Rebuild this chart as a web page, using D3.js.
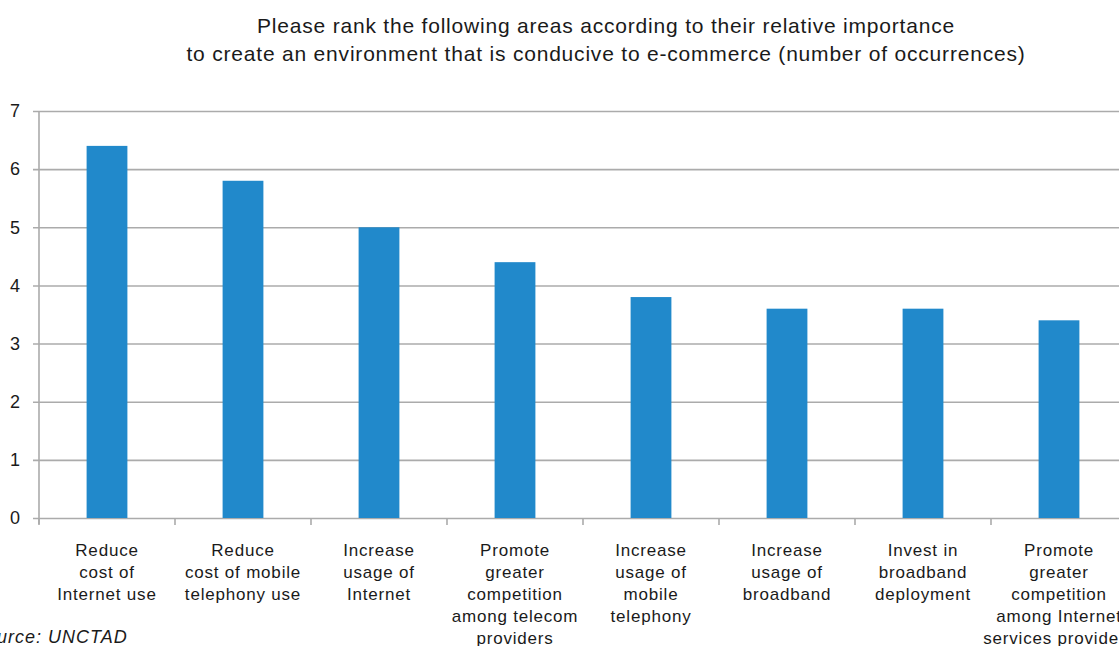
<!DOCTYPE html>
<html>
<head>
<meta charset="utf-8">
<script src="https://cdn.jsdelivr.net/npm/d3@7"></script>
<style>
  html, body { margin: 0; padding: 0; background: #fff; overflow: hidden; }
  text { font-family: "Liberation Sans", Arial, Helvetica, sans-serif; fill: #1a1a1a; }
</style>
</head>
<body>
<svg id="chart" width="1119" height="646"></svg>
<script>
// Survey responses: areas ranked by importance for an e-commerce-friendly environment
const categories = [
  ["Reduce", "cost of", "Internet use"],
  ["Reduce", "cost of mobile", "telephony use"],
  ["Increase", "usage of", "Internet"],
  ["Promote", "greater", "competition", "among telecom", "providers"],
  ["Increase", "usage of", "mobile", "telephony"],
  ["Increase", "usage of", "broadband"],
  ["Invest in", "broadband", "deployment"],
  ["Promote", "greater", "competition", "among Internet", "services providers"]
];
const values = [6.4, 5.8, 5.0, 4.4, 3.8, 3.6, 3.6, 3.4];
const yTicks = [0, 1, 2, 3, 4, 5, 6, 7];
const titleLines = [
  "Please rank the following areas according to their relative importance",
  "to create an environment that is conducive to e-commerce (number of occurrences)"
];
const sourceText = "Source: UNCTAD";

const svg = d3.select("#chart");
const plotLeft = 39, plotRight = 1127, plotTop = 111, plotBottom = 518;
const gridColor = "#ababab";
const barColor = "#2189cb";

const x = d3.scaleBand().domain(d3.range(categories.length)).range([plotLeft, plotRight]).padding(0);
const y = d3.scaleLinear().domain([0, 7]).range([plotBottom, plotTop]);

// Title
svg.append("g").selectAll("text").data(titleLines).join("text")
  .attr("x", 606).attr("y", (d, i) => 33 + i * 28)
  .attr("text-anchor", "middle").attr("font-size", 21)
  .attr("letter-spacing", 0.8)
  .text(d => d);

// Horizontal gridlines and y labels
const yAxis = d3.axisLeft(y).tickValues(yTicks).tickSize(-(1119 - plotLeft)).tickPadding(14).tickFormat(d3.format("d"));
const gy = svg.append("g").attr("transform", `translate(${plotLeft},0)`).call(yAxis);
gy.select(".domain").remove();
gy.selectAll(".tick line").attr("stroke", gridColor).attr("stroke-width", 1.6).attr("x1", -6);
gy.selectAll(".tick text").attr("font-size", 18).attr("text-anchor", "start").attr("x", -29).attr("dy", "0.32em")
  .style("font-family", "'Liberation Sans', Arial, sans-serif").attr("fill", "#1a1a1a");

// Vertical axis line
svg.append("line").attr("x1", plotLeft).attr("x2", plotLeft).attr("y1", plotTop).attr("y2", plotBottom + 6)
  .attr("stroke", gridColor).attr("stroke-width", 1.6);

// Category separator ticks below the baseline
svg.append("g").selectAll("line").data(d3.range(categories.length + 1)).join("line")
  .attr("x1", i => plotLeft + i * x.step()).attr("x2", i => plotLeft + i * x.step())
  .attr("y1", plotBottom).attr("y2", plotBottom + 7)
  .attr("stroke", gridColor).attr("stroke-width", 1.6);

// Bars
const barW = x.bandwidth() * 0.30;
svg.append("g").selectAll("rect").data(values).join("rect")
  .attr("x", (d, i) => x(i) + x.bandwidth() / 2 - barW / 2)
  .attr("y", d => y(d))
  .attr("width", barW)
  .attr("height", d => y(0) - y(d))
  .attr("fill", barColor);

// Category labels
const lab = svg.append("g").selectAll("text").data(categories).join("text")
  .attr("x", (d, i) => x(i) + x.bandwidth() / 2)
  .attr("y", 556)
  .attr("text-anchor", "middle").attr("font-size", 17)
  .attr("letter-spacing", 0.8);
lab.selectAll("tspan").data(d => d).join("tspan")
  .attr("x", function() { return d3.select(this.parentNode).attr("x"); })
  .attr("dy", (d, i) => i === 0 ? 0 : 22)
  .text(d => d);

// Source note
svg.append("text").attr("x", -27).attr("y", 643).attr("font-size", 18)
  .attr("letter-spacing", 1).attr("font-style", "italic").text(sourceText);
</script>
</body>
</html>
